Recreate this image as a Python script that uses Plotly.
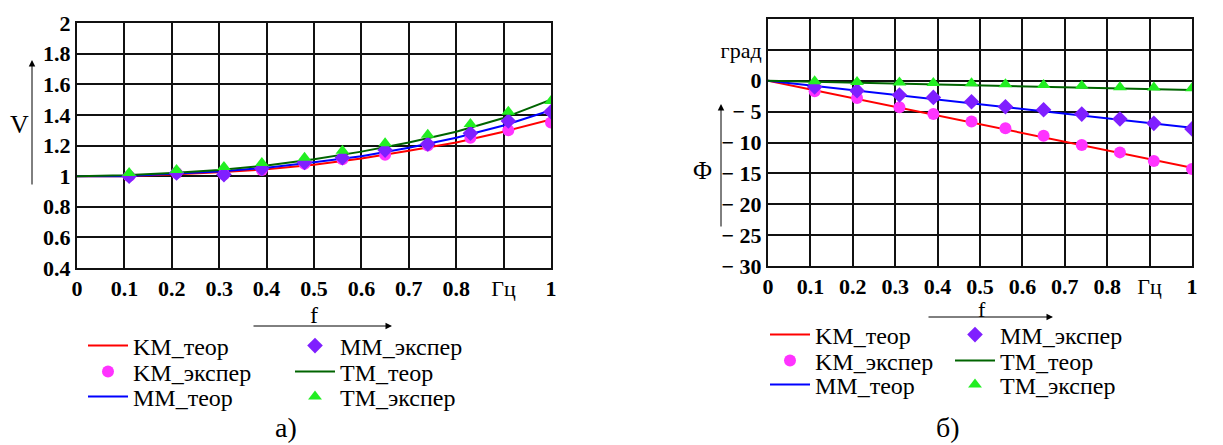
import plotly.graph_objects as go

# ---------------- data ----------------
f_theor = [0.0, 0.1, 0.2, 0.3, 0.4, 0.5, 0.6, 0.7, 0.8, 0.9, 1.0]
f_exp = [0.11, 0.21, 0.31, 0.39, 0.48, 0.56, 0.65, 0.74, 0.83, 0.91, 1.0]

# chart a) : V
V_KM_theor = [1.0, 1.0, 1.01, 1.025, 1.045, 1.075, 1.115, 1.165, 1.22, 1.29, 1.37]
V_MM_theor = [1.0, 1.0, 1.015, 1.03, 1.055, 1.09, 1.13, 1.185, 1.25, 1.33, 1.43]
V_TM_theor = [1.0, 1.005, 1.02, 1.04, 1.07, 1.11, 1.16, 1.22, 1.29, 1.38, 1.50]
V_KM_exp = [1.0, 1.02, 1.01, 1.04, 1.08, 1.11, 1.14, 1.20, 1.25, 1.30, 1.35]
V_MM_exp = [1.0, 1.02, 1.01, 1.05, 1.09, 1.12, 1.17, 1.21, 1.28, 1.36, 1.42]
V_TM_exp = [1.02, 1.04, 1.06, 1.085, 1.12, 1.165, 1.215, 1.27, 1.34, 1.42, 1.49]

# chart б) : Phi, degrees
P_KM_theor = [0.0, -1.4, -2.8, -4.2, -5.6, -7.0, -8.45, -9.85, -11.25, -12.7, -14.1]
P_MM_theor = [0.0, -0.75, -1.5, -2.25, -3.0, -3.75, -4.55, -5.3, -6.05, -6.8, -7.6]
P_TM_theor = [0.0, -0.15, -0.3, -0.45, -0.6, -0.75, -0.9, -1.05, -1.2, -1.35, -1.5]
P_KM_exp = [-1.7, -2.8, -4.3, -5.4, -6.6, -7.7, -8.9, -10.4, -11.6, -13.0, -14.3]
P_MM_exp = [-1.0, -1.6, -2.3, -2.7, -3.4, -4.2, -4.7, -5.4, -6.2, -6.9, -7.8]
P_TM_exp = [-0.1, -0.2, -0.3, -0.35, -0.4, -0.55, -0.7, -0.8, -1.05, -1.1, -1.2]

x_tickvals = [0, 0.1, 0.2, 0.3, 0.4, 0.5, 0.6, 0.7, 0.8, 0.9, 1.0]
x_ticktext = ["0", "0.1", "0.2", "0.3", "0.4", "0.5", "0.6", "0.7", "0.8", "Гц", "1"]
v_tickvals = [0.4, 0.6, 0.8, 1.0, 1.2, 1.4, 1.6, 1.8, 2.0]
v_ticktext = ["0.4", "0.6", "0.8", "1", "1.2", "1.4", "1.6", "1.8", "2"]
p_tickvals = [-30, -25, -20, -15, -10, -5, 0, 5, 10]
p_ticktext = ["\u2212 30", "\u2212 25", "\u2212 20", "\u2212 15", "\u2212 10", "\u2212 5", "0", "град", "10"]
unit_labels = ["Гц", "град"]

names = ["KM_теор", "KM_экспер", "MM_теор", "MM_экспер", "TM_теор", "TM_экспер"]

# ---------------- styles ----------------
FONT = "'Liberation Serif', 'Times New Roman', 'DejaVu Serif', serif"
C_KM_L, C_KM_M = "#ff0000", "#ff33ff"
C_MM_L, C_MM_M = "#0000ff", "#7f1fff"
C_TM_L, C_TM_M = "#006400", "#22ee22"

OFF = 8  # default page body margin
W, H = 1223 - OFF, 445 - OFF
def px(x):
    return (x - OFF) / W
def py(y):
    return 1 - (y - OFF) / H

def boldify(labels):
    return [t if t in unit_labels else "<b>%s</b>" % t for t in labels]

fig = go.Figure()

def add_set(xa, ya, th, ex, legs):
    (km_t, mm_t, tm_t) = th
    (km_e, mm_e, tm_e) = ex
    fig.add_trace(go.Scatter(x=f_theor, y=km_t, mode="lines", name=names[0],
                             line=dict(color=C_KM_L, width=2), xaxis=xa, yaxis=ya, legend=legs[0]))
    fig.add_trace(go.Scatter(x=f_theor, y=mm_t, mode="lines", name=names[2],
                             line=dict(color=C_MM_L, width=2), xaxis=xa, yaxis=ya, legend=legs[2]))
    fig.add_trace(go.Scatter(x=f_theor, y=tm_t, mode="lines", name=names[4],
                             line=dict(color=C_TM_L, width=2), xaxis=xa, yaxis=ya, legend=legs[4]))
    fig.add_trace(go.Scatter(x=f_exp, y=km_e, mode="markers", name=names[1],
                             marker=dict(color=C_KM_M, size=12, symbol="circle"), xaxis=xa, yaxis=ya, legend=legs[1]))
    fig.add_trace(go.Scatter(x=f_exp, y=mm_e, mode="markers", name=names[3],
                             marker=dict(color=C_MM_M, size=12, symbol="diamond"), xaxis=xa, yaxis=ya, legend=legs[3]))
    fig.add_trace(go.Scatter(x=f_exp, y=tm_e, mode="markers", name=names[5],
                             marker=dict(color=C_TM_M, size=12, symbol="triangle-up"), xaxis=xa, yaxis=ya, legend=legs[5]))

legs_a = ["legend2", "legend3", "legend4", "legend5", "legend6", "legend7"]
legs_b = ["legend8", "legend9", "legend10", "legend11", "legend12", "legend13"]
add_set("x", "y", (V_KM_theor, V_MM_theor, V_TM_theor), (V_KM_exp, V_MM_exp, V_TM_exp), legs_a)
add_set("x2", "y2", (P_KM_theor, P_MM_theor, P_TM_theor), (P_KM_exp, P_MM_exp, P_TM_exp), legs_b)

tickfont = dict(family=FONT, size=22, color="black")
axcommon = dict(showgrid=True, gridcolor="#111111", gridwidth=2, showline=True, linecolor="#111111",
                linewidth=2, mirror=True, zeroline=False, ticks="", tickfont=tickfont, automargin=False,
                fixedrange=True)

fig.update_layout(
    width=W, height=H, margin=dict(l=0, r=0, t=0, b=0),
    paper_bgcolor="white", plot_bgcolor="white", showlegend=True,
    font=dict(family=FONT, color="black"),
    xaxis=dict(domain=[px(77), px(551)], range=[0, 1], tickvals=x_tickvals, ticktext=boldify(x_ticktext), **axcommon),
    yaxis=dict(domain=[py(268), py(23)], range=[0.4, 2.0], tickvals=v_tickvals, ticktext=boldify(v_ticktext), **axcommon),
    xaxis2=dict(domain=[px(768), px(1192)], range=[0, 1], tickvals=x_tickvals, ticktext=boldify(x_ticktext),
                anchor="y2", **axcommon),
    yaxis2=dict(domain=[py(266), py(19)], range=[-30, 10], tickvals=p_tickvals, ticktext=boldify(p_ticktext),
                anchor="x2", **axcommon),
)

legfont = dict(family=FONT, size=24, color="black")
# (x of text start, y of row centre) ; order matches names
pos_a = [(133, 346), (133, 372), (133, 397), (340, 346), (340, 372), (340, 397)]
pos_b = [(815, 335), (815, 361), (815, 385), (1000, 335), (1000, 361), (1000, 385)]
for keys, pos in [(legs_a, pos_a), (legs_b, pos_b)]:
    for key, (tx, ty) in zip(keys, pos):
        fig.update_layout({key: dict(x=px(tx - 50), y=py(ty), xanchor="left", yanchor="middle", font=legfont,
                                     bgcolor="rgba(0,0,0,0)", itemwidth=40, visible=True)})

# axis name arrows and labels
ann = []
def arrow(x0, y0, x1, y1):
    ann.append(dict(x=px(x1), y=py(y1), ax=x0 - x1, ay=y0 - y1, xref="paper", yref="paper",
                    axref="pixel", ayref="pixel", showarrow=True, arrowhead=2, arrowsize=1.3,
                    arrowwidth=1, arrowcolor="black", text=""))
def label(x, y, t, size=20):
    ann.append(dict(x=px(x), y=py(y), xref="paper", yref="paper", text=t, showarrow=False,
                    xanchor="center", yanchor="middle",
                    font=dict(family=FONT, size=size, color="black")))

arrow(32, 186, 32, 60)
label(19, 124, "V", 26)
arrow(252, 326, 392, 326)
label(314, 315, "f", 24)
arrow(721, 228, 721, 104)
label(702, 170, "Φ", 26)
arrow(927, 317, 1053, 317)
label(982, 309, "f", 22)
label(286, 427, "а)", 28)
label(948, 427, "б)", 28)

fig.update_layout(annotations=ann)
fig.write_html("out.html")
